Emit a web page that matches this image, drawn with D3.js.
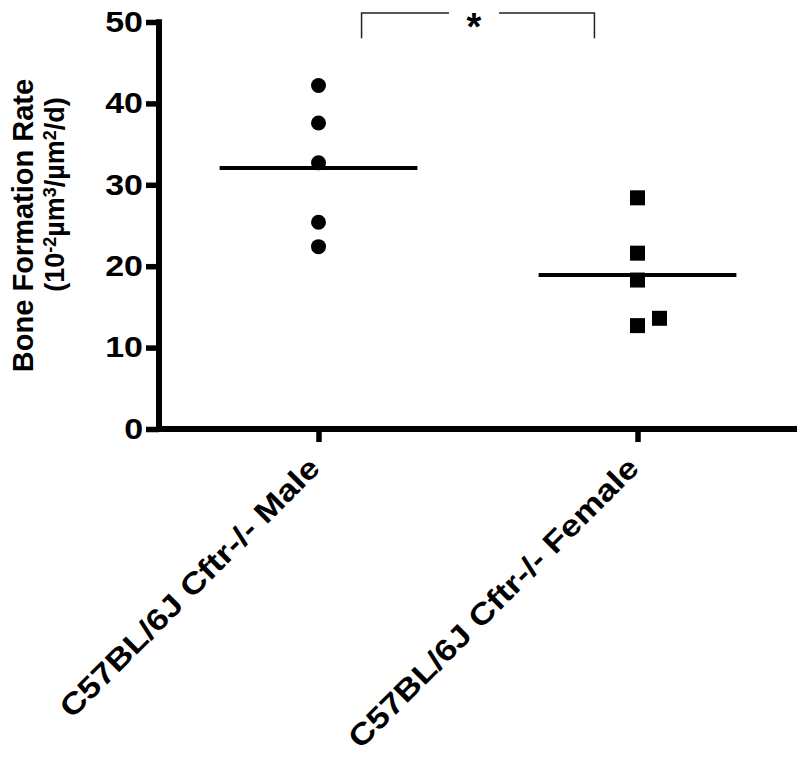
<!DOCTYPE html>
<html>
<head>
<meta charset="utf-8">
<script src="https://cdn.jsdelivr.net/npm/d3@7"></script>
<style>
  body { margin: 0; background: #fff; }
  text { font-family: 'Liberation Sans', Arial, sans-serif; font-weight: bold; }
</style>
</head>
<body>
<div id="chart"></div>
<script>
const categories = ['C57BL/6J Cftr-/- Male', 'C57BL/6J Cftr-/- Female'];
const maleValues = [42.2, 37.6, 32.7, 25.4, 22.4];
const femaleValues = [28.4, 21.6, 18.3, 12.7, 13.6];
const yTicks = [0, 10, 20, 30, 40, 50];
const significance = '*';

const groups = [
  { name: categories[0], values: maleValues, shape: 'circle' },
  { name: categories[1], values: femaleValues, shape: 'square' }
];

const width = 800;
const height = 762;
const margin = { top: 22, bottom: 333, left: 159, right: 3 };
// the original lettering is a touch wider than Arial
const stretch = 1.17;

const svg = d3
  .select('#chart')
  .append('svg')
  .attr('width', width)
  .attr('height', height);

const widen = (sel, k) =>
  sel.each(function () {
    const len = this.getComputedTextLength();
    d3.select(this).attr('textLength', len * k).attr('lengthAdjust', 'spacingAndGlyphs');
  });

const x = d3
  .scalePoint()
  .domain(categories)
  .range([margin.left, width - margin.right])
  .padding(0.5);

const y = d3
  .scaleLinear()
  .domain([0, 50])
  .range([height - margin.bottom, margin.top]);

// axes
const yAxis = svg
  .append('g')
  .attr('transform', `translate(${margin.left}, 0)`)
  .call(d3.axisLeft(y).tickValues(yTicks).tickSize(13).tickPadding(3).tickSizeOuter(0));

const xAxis = svg
  .append('g')
  .attr('transform', `translate(0, ${y(0)})`)
  .call(d3.axisBottom(x).tickSize(13).tickSizeOuter(0).tickFormat(''));

[yAxis, xAxis].forEach((g) => {
  g.select('.domain').style('stroke', '#000').style('stroke-width', '6px');
  g.selectAll('.tick line').style('stroke', '#000').style('stroke-width', '5.5px');
});
yAxis.select('.domain').attr('d', `M0,${y(50) - 2.75}V${y(0) + 3}`);
xAxis.select('.domain').attr('d', `M${margin.left - 3},0H${width - margin.right}`);

yAxis
  .selectAll('.tick text')
  .attr('font-size', 29)
  .attr('font-family', "'Liberation Sans', Arial, sans-serif")
  .attr('font-weight', 'bold')
  .attr('fill', '#000')
  .call(widen, stretch);

// rotated category labels
svg
  .append('g')
  .selectAll('text')
  .data(categories)
  .enter()
  .append('text')
  .attr('transform', (d) => `translate(${x(d) + 3}, ${y(0) + 41}) rotate(-45)`)
  .attr('text-anchor', 'end')
  .attr('font-size', 30)
  .attr('fill', '#000')
  .text((d) => d)
  .call(widen, stretch);

// y-axis title
const yTitle = svg.append('g');
yTitle
  .append('text')
  .attr('transform', `translate(33, ${(y(0) + y(50)) / 2}) rotate(-90)`)
  .attr('text-anchor', 'middle')
  .attr('font-size', 29)
  .text('Bone Formation Rate');

const unit = yTitle
  .append('text')
  .attr('transform', `translate(64, ${(y(0) + y(50)) / 2 - 31}) rotate(-90)`)
  .attr('text-anchor', 'middle')
  .attr('font-size', 27);
[
  ['(10', false],
  ['-2', true],
  ['µm', false],
  ['3', true],
  ['/µm', false],
  ['2', true],
  ['/d)', false]
].forEach(([t, sup]) => {
  unit
    .append('tspan')
    .attr('font-size', sup ? 18 : 27)
    .attr('baseline-shift', sup ? '45%' : '0%')
    .text(t);
});

// points, dodging overlapping markers sideways
const markerSize = 15;
const step = x.step();

groups.forEach((g) => {
  const placed = [];
  const sorted = g.values.slice().sort((a, b) => a - b);
  const pts = sorted.map((v) => {
    let dx = 0;
    while (placed.some((p) => Math.abs(y(p.v) - y(v)) < markerSize && Math.abs(p.dx - dx) < markerSize)) {
      dx += markerSize + 7;
    }
    const p = { v, dx };
    placed.push(p);
    return p;
  });

  const layer = svg.append('g');
  if (g.shape === 'circle') {
    layer
      .selectAll('circle')
      .data(pts)
      .enter()
      .append('circle')
      .attr('cx', (d) => x(g.name) + d.dx)
      .attr('cy', (d) => y(d.v))
      .attr('r', markerSize / 2)
      .attr('fill', '#000');
  } else {
    layer
      .selectAll('rect')
      .data(pts)
      .enter()
      .append('rect')
      .attr('x', (d) => x(g.name) + d.dx - markerSize / 2)
      .attr('y', (d) => y(d.v) - markerSize / 2)
      .attr('width', markerSize)
      .attr('height', markerSize)
      .attr('fill', '#000');
  }

  const mean = d3.mean(g.values);
  layer
    .append('line')
    .attr('x1', x(g.name) - step * 0.31)
    .attr('x2', x(g.name) + step * 0.31)
    .attr('y1', y(mean))
    .attr('y2', y(mean))
    .attr('stroke', '#000')
    .attr('stroke-width', 4);
});

// significance bracket
const bx1 = x(categories[0]) + step * 0.135;
const bx2 = x(categories[1]) - step * 0.135;
const bTop = y(51.1);
const bBottom = y(48);
const mid = (bx1 + bx2) / 2 - 4;
const bracket = svg.append('g').attr('stroke', '#222').attr('stroke-width', 1.5).attr('fill', 'none');
bracket.append('path').attr('d', `M${bx1},${bBottom}V${bTop}H${mid - 25}`);
bracket.append('path').attr('d', `M${mid + 25},${bTop}H${bx2}V${bBottom}`);
svg
  .append('text')
  .attr('x', mid)
  .attr('y', bTop + 27)
  .attr('text-anchor', 'middle')
  .attr('font-size', 38)
  .text(significance);
</script>
</body>
</html>
